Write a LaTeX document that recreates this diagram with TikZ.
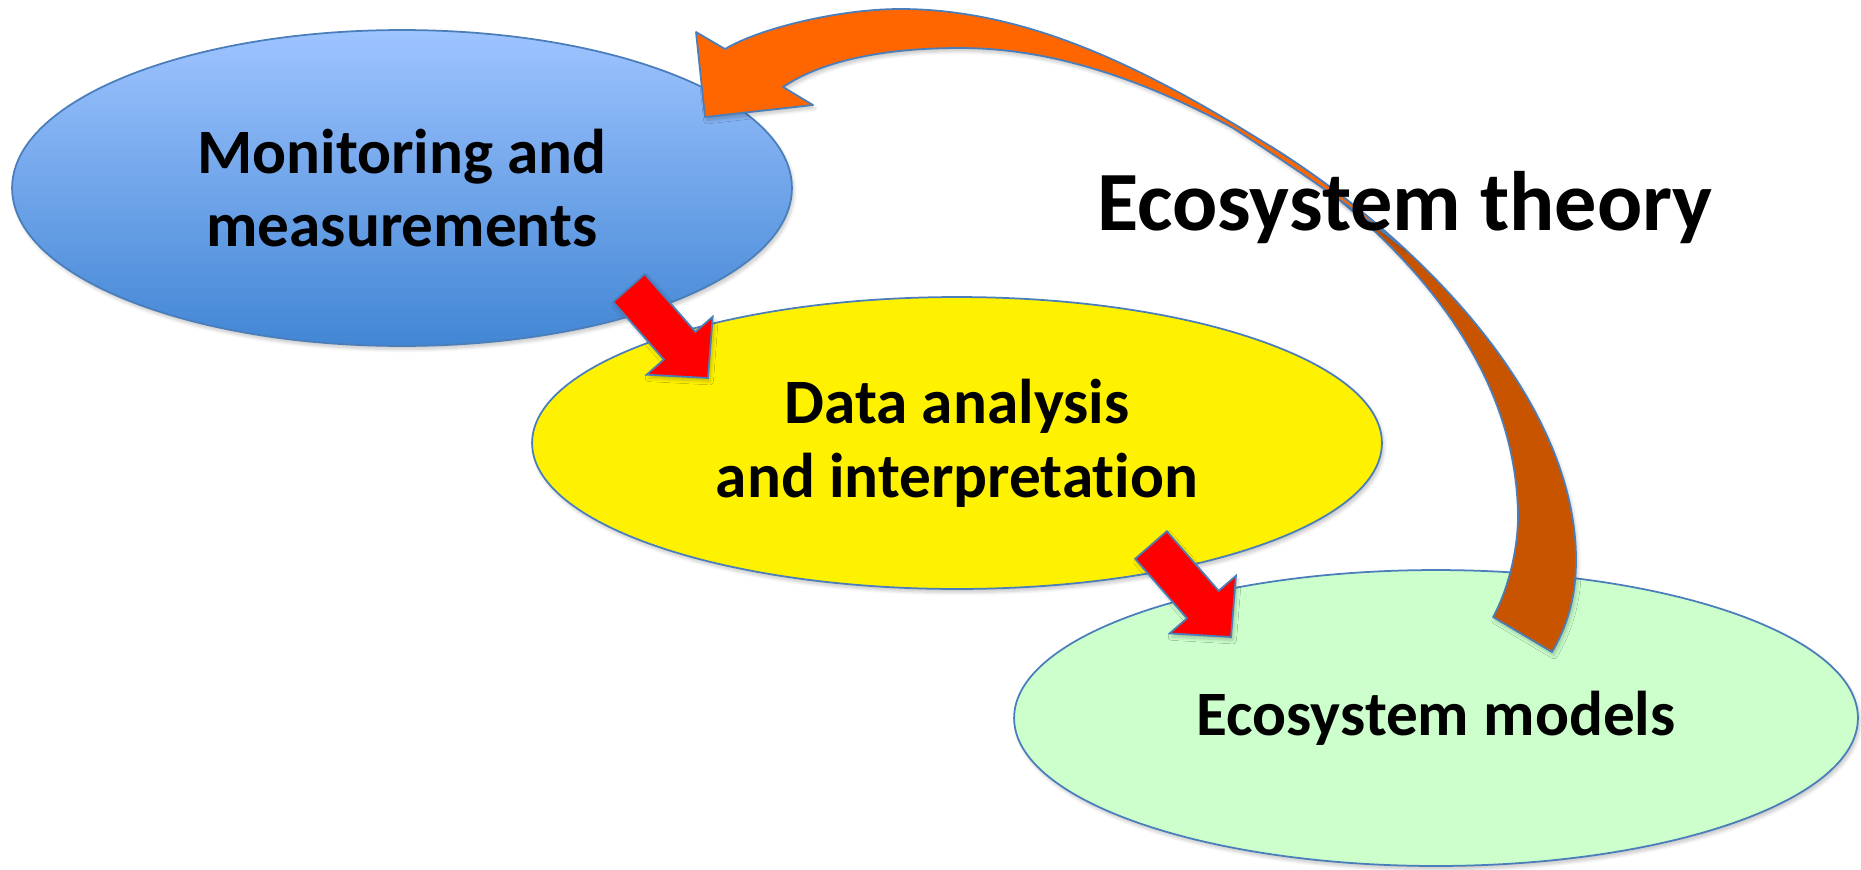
\documentclass[tikz,border=0pt]{standalone}
\usepackage{fontspec}
\setmainfont[Ligatures=NoCommon]{Carlito}
\usetikzlibrary{shapes.geometric,calc,shadows.blur}

\definecolor{edgeblue}{RGB}{74,126,187}
\definecolor{skytop}{RGB}{158,196,255}
\definecolor{skybottom}{RGB}{66,134,212}
\definecolor{palegreen}{RGB}{204,255,204}
\definecolor{loopfront}{RGB}{255,102,0}
\definecolor{loopback}{RGB}{200,84,0}

\tikzset{
  softshadow/.style={blur shadow={shadow xshift=0.04cm,shadow yshift=-0.07cm,
      shadow blur steps=6,shadow opacity=22}},
  stage/.style={ellipse,draw=edgeblue,line width=1pt,inner sep=0pt,align=center,
      font=\fontsize{36}{42}\selectfont\bfseries,softshadow},
  flow/.style={fill=red,draw=edgeblue,line width=1pt,line join=miter,softshadow},
  loopbody/.style={draw=edgeblue,line width=1pt,line join=round,softshadow},
}

% block arrow, tail #1, tip #2
\newcommand{\blockarrow}[2]{%
  \coordinate (neck) at ($(#2)!0.86cm!(#1)$) ;
  \draw[flow] ($(#1)!0.42cm!90:(#2)$) -- ($(neck)!0.42cm!90:(#2)$)
    -- ($(neck)!0.88cm!90:(#2)$) -- (#2) -- ($(neck)!0.88cm!-90:(#2)$)
    -- ($(neck)!0.42cm!-90:(#2)$) -- ($(#1)!0.42cm!-90:(#2)$) -- cycle ;
}

\begin{document}
\begin{tikzpicture}[x=0.02cm,y=-0.02cm]
        \useasboundingbox (0,0) rectangle (1861,869) ;
        %\draw[very thin,gray,step=100] (0,0) grid (1861,869) ;

        % the three stages
        \node[stage,top color=skytop,bottom color=skybottom,
          minimum width=15.6cm,minimum height=6.32cm] (mon) at (402,188)
          {Monitoring and\\measurements} ;
        \node[stage,fill=yellow,minimum width=17cm,minimum height=5.84cm] (ana) at (957,443)
          {Data analysis\\and interpretation} ;
        \node[stage,fill=palegreen,minimum width=16.88cm,minimum height=5.92cm] (mod) at (1436,718)
          {Ecosystem models} ;

        % red arrows between the stages
        \coordinate (mon-out) at (629,288) ;
        \coordinate (ana-in) at (708,378) ;
        \coordinate (ana-out) at (1151,545) ;
        \coordinate (mod-in) at (1231,637) ;
        \blockarrow{mon-out}{ana-in}
        \blockarrow{ana-out}{mod-in}

        % feedback loop: back face (brown) first, from the twist down to the tail
        \coordinate (loop-twist) at (1270,146) ;
        \coordinate (loop-tail) at (1493,617) ;
        \coordinate (loop-tip) at (705,117) ;
        \draw[loopbody,fill=loopback] (loop-twist)
          .. controls (1420,240) and (1576,400) .. (1576,560)
          .. controls (1576,600) and (1566,628) .. (1552,652) -- (loop-tail)
          .. controls (1508,590) and (1518,550) .. (1518,515)
          .. controls (1515,330) and (1355,208) .. (loop-twist) -- cycle ;
        % front face (orange) with the head, running thin over the back face
        \draw[loopbody,fill=loopfront] (loop-tip) -- (696,32) -- (725,49)
          .. controls (760,28) and (840,9) .. (900,9)
          .. controls (1030,9) and (1150,71) .. (loop-twist)
          .. controls (1315,174) and (1360,208) .. (1402,247)
          .. controls (1350,205) and (1290,165) .. (1233,128)
          .. controls (1140,78) and (1050,48) .. (960,48)
          .. controls (880,48) and (820,62) .. (783,87)
          -- (813,105) -- cycle ;

        \node[font=\fontsize{48}{56}\selectfont\bfseries] (theory) at (1405,208)
          {Ecosystem theory} ;
      \end{tikzpicture}
\end{document}
